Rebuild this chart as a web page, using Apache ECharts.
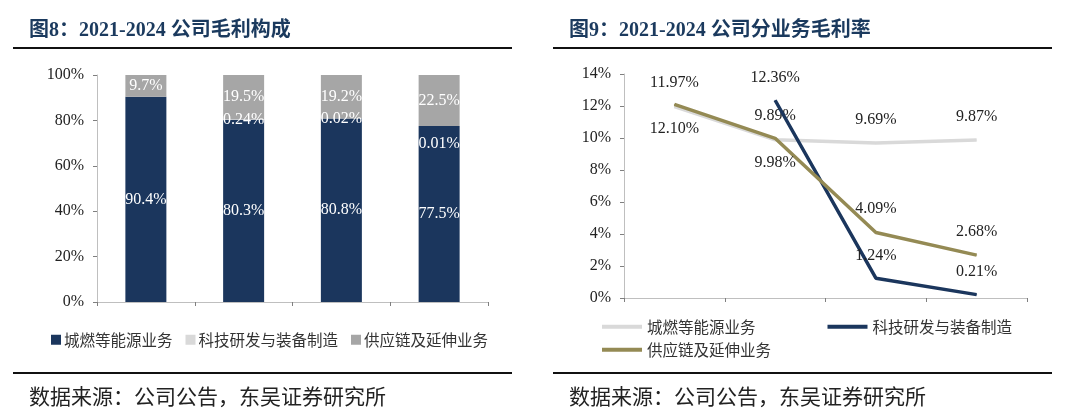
<!DOCTYPE html>
<html><head><meta charset="utf-8">
<script src="https://cdn.jsdelivr.net/npm/echarts@6/dist/echarts.min.js"></script>
<style>html,body{margin:0;padding:0;background:#fff}#c{width:1080px;height:413px}</style>
</head><body><div id="c"></div>
<script>
var years = ['2021', '2022', '2023', '2024'];
var shareNames = ['城燃等能源业务', '科技研发与装备制造', '供应链及延伸业务'];
var shareGas = [90.4, 80.3, 80.8, 77.5];
var shareTech = [0, 0.24, 0.02, 0.01];
var shareSupply = [9.7, 19.5, 19.2, 22.5];
var marginGas = [11.97, 9.89, 9.69, 9.87];
var marginTech = [null, 12.36, 1.24, 0.21];
var marginSupply = [12.10, 9.98, 4.09, 2.68];
var pctTicks = [0, 20, 40, 60, 80, 100];

var SERIF = '"Liberation Serif","Times New Roman","Noto Sans CJK SC",serif';
var CJK = '"Noto Sans CJK SC",sans-serif';
var NAVY = '#1b365d', LGRAY = '#d9d9d9', MGRAY = '#a6a6a6', OLIVE = '#948a54';

function fmt(v){ return v.toFixed(2) + '%'; }

var chart = echarts.init(document.getElementById('c'), null, {renderer:'canvas'});

var lblWhite = {show:true, position:'inside', color:'#fff', fontFamily:SERIF, fontSize:16};

var option = {
  animation:false,
  backgroundColor:'#fff',
  title:[
    {text:'图8：2021-2024 公司毛利构成', left:24, top:16, textStyle:{fontFamily:SERIF, fontWeight:'bold', fontSize:20, color:'#1b3a5e'}},
    {text:'图9：2021-2024 公司分业务毛利率', left:564, top:16, textStyle:{fontFamily:SERIF, fontWeight:'bold', fontSize:20, color:'#1b3a5e'}},
    {text:'数据来源：公司公告，东吴证券研究所', left:24, top:381, textStyle:{fontFamily:CJK, fontWeight:'normal', fontSize:21, color:'#222'}},
    {text:'数据来源：公司公告，东吴证券研究所', left:564, top:381, textStyle:{fontFamily:CJK, fontWeight:'normal', fontSize:21, color:'#222'}}
  ],
  graphic:[
    {type:'rect', shape:{x:13, y:47, width:499, height:2}, style:{fill:'#111'}},
    {type:'rect', shape:{x:553, y:47, width:499, height:2}, style:{fill:'#111'}},
    {type:'rect', shape:{x:13, y:372, width:499, height:2}, style:{fill:'#111'}},
    {type:'rect', shape:{x:553, y:372, width:499, height:2}, style:{fill:'#111'}}
  ],
  legend:[
    {data:shareNames, left:46, top:327, icon:'rect', itemWidth:10, itemHeight:10, itemGap:13,
     textStyle:{fontFamily:CJK, fontSize:15.5, color:'#333', padding:[0,0,0,-2]}},
    {data:[shareNames[0], shareNames[1]].map(function(n){return 'L' + n;}), left:597, top:314, icon:'rect', itemWidth:40, itemHeight:4, itemGap:72,
     formatter:function(n){return n.slice(1);},
     textStyle:{fontFamily:CJK, fontSize:15.5, color:'#333'}},
    {data:['L' + shareNames[2]], left:597, top:337, icon:'rect', itemWidth:40, itemHeight:4,
     formatter:function(n){return n.slice(1);},
     textStyle:{fontFamily:CJK, fontSize:15.5, color:'#333'}}
  ],
  grid:[
    {left:97, top:75, width:391, height:227},
    {left:624, top:74, width:403, height:224}
  ],
  xAxis:[
    {type:'category', gridIndex:0, data:years, boundaryGap:true,
     axisLine:{lineStyle:{color:'#bfbfbf', width:1}},
     axisTick:{show:true, length:4, lineStyle:{color:'#7f7f7f'}},
     axisLabel:{show:false}},
    {type:'category', gridIndex:1, data:years, boundaryGap:true,
     axisLine:{lineStyle:{color:'#bfbfbf', width:1}},
     axisTick:{show:true, length:4, lineStyle:{color:'#7f7f7f'}},
     axisLabel:{show:false}}
  ],
  yAxis:[
    {type:'value', gridIndex:0, min:0, max:100, interval:20,
     axisLine:{show:true, lineStyle:{color:'#bfbfbf'}},
     axisTick:{show:true, length:4, lineStyle:{color:'#7f7f7f'}},
     splitLine:{show:false},
     axisLabel:{margin:13, fontFamily:SERIF, fontSize:16, color:'#222', formatter:'{value}%'}},
    {type:'value', gridIndex:1, min:0, max:14, interval:2,
     axisLine:{show:true, lineStyle:{color:'#bfbfbf'}},
     axisTick:{show:true, length:4, lineStyle:{color:'#7f7f7f'}},
     splitLine:{show:false},
     axisLabel:{margin:13, fontFamily:SERIF, fontSize:16, color:'#222', formatter:'{value}%'}}
  ],
  series:[
    {name:shareNames[0], type:'bar', xAxisIndex:0, yAxisIndex:0, stack:'s', barWidth:41,
     itemStyle:{color:NAVY}, data:shareGas,
     label:Object.assign({}, lblWhite, {formatter:function(p){return p.value.toFixed(1)+'%';}})},
    {name:shareNames[1], type:'bar', xAxisIndex:0, yAxisIndex:0, stack:'s', barWidth:41,
     itemStyle:{color:LGRAY},
     data:shareTech.map(function(v,i){
       var d = {value:v};
       if (i === 3) d.label = {offset:[0,18]};
       return d;
     }),
     label:Object.assign({}, lblWhite, {formatter:function(p){return p.value > 0 ? p.value.toFixed(2)+'%' : '';}})},
    {name:shareNames[2], type:'bar', xAxisIndex:0, yAxisIndex:0, stack:'s', barWidth:41,
     itemStyle:{color:MGRAY}, data:shareSupply,
     label:Object.assign({}, lblWhite, {formatter:function(p){return p.value.toFixed(1)+'%';}})},

    {name:'L' + shareNames[0], type:'line', xAxisIndex:1, yAxisIndex:1, data:marginGas,
     symbol:'circle', symbolSize:1, showSymbol:true, z:2,
     lineStyle:{color:LGRAY, width:3.5}, itemStyle:{color:LGRAY},
     label:{show:true, position:'top', distance:15, fontFamily:SERIF, fontSize:16, color:'#222', formatter:function(p){return fmt(p.value);}}},
    {name:'L' + shareNames[1], type:'line', xAxisIndex:1, yAxisIndex:1, data:marginTech,
     symbol:'circle', symbolSize:1, showSymbol:true, z:3,
     lineStyle:{color:NAVY, width:3.5}, itemStyle:{color:NAVY},
     label:{show:true, position:'top', distance:14, fontFamily:SERIF, fontSize:16, color:'#222', formatter:function(p){return p.value == null ? '' : fmt(p.value);}}},
    {name:'L' + shareNames[2], type:'line', xAxisIndex:1, yAxisIndex:1, z:4,
     data:marginSupply.map(function(v,i){
       var d = {value:v};
       if (i < 2) d.label = {position:'bottom', distance:16};
       return d;
     }),
     symbol:'circle', symbolSize:1, showSymbol:true,
     lineStyle:{color:OLIVE, width:3.5}, itemStyle:{color:OLIVE},
     label:{show:true, position:'top', distance:15, fontFamily:SERIF, fontSize:16, color:'#222', formatter:function(p){return fmt(p.value);}}}
  ]
};
chart.setOption(option);
</script>
</body></html>
